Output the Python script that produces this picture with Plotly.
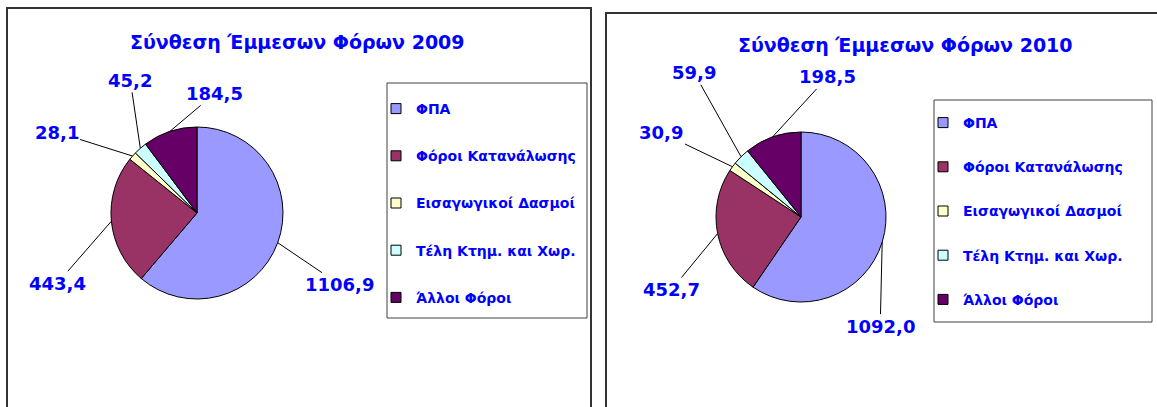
import numpy as np
import plotly.graph_objects as go

W, H = 1157, 407

categories = ["ΦΠΑ", "Φόροι Κατανάλωσης", "Εισαγωγικοί Δασμοί", "Τέλη Κτημ. και Χωρ.", "Άλλοι Φόροι"]
values_2009 = [1106.9, 443.4, 28.1, 45.2, 184.5]
values_2010 = [1092.0, 452.7, 30.9, 59.9, 198.5]
titles = ["Σύνθεση Έμμεσων Φόρων 2009", "Σύνθεση Έμμεσων Φόρων 2010"]
colors = ["#9999FF", "#993366", "#FFFFCC", "#CCFFFF", "#660066"]

BLUE = "#0000FF"
FONT = "Comic Sans MS, DejaVu Sans, sans-serif"

# pie centre / radius in pixels, label offsets (px) per slice
pies = [
    dict(vals=values_2009, cx=197, cy=213, r=86,
         offs=[(62, 42), (-54, 62), (-76, -24), (-10, -68), (45, -38)]),
    dict(vals=values_2010, cx=801, cy=217, r=85,
         offs=[(-2, 84), (-46, 56), (-71, -34), (-47, -84), (55, -60)]),
]

fig = go.Figure()
annotations = []

for p in pies:
    dom_x = [(p["cx"] - p["r"]) / W, (p["cx"] + p["r"]) / W]
    dom_y = [1 - (p["cy"] + p["r"]) / H, 1 - (p["cy"] - p["r"]) / H]
    fig.add_trace(go.Pie(
        labels=categories, values=p["vals"], sort=False, direction="clockwise",
        rotation=0, textinfo="none", hoverinfo="label+value",
        marker=dict(colors=colors, line=dict(color="#000000", width=1)),
        domain=dict(x=dom_x, y=dom_y), showlegend=False,
    ))
    # label each slice at its outer edge midpoint
    v = np.array(p["vals"])
    frac = v / v.sum()
    mids = (np.cumsum(frac) - frac / 2) * 2 * np.pi
    for val, a, (ax, ay) in zip(v, mids, p["offs"]):
        px = p["cx"] + p["r"] * np.sin(a)
        py = p["cy"] - p["r"] * np.cos(a)
        annotations.append(dict(
            x=px / W, y=1 - py / H, xref="paper", yref="paper",
            text=f"{val:.1f}".replace(".", ","), showarrow=True, arrowhead=0,
            arrowwidth=1, arrowcolor="#000000", ax=ax, ay=ay, standoff=0,
            font=dict(family=FONT, size=18, color=BLUE, weight="bold"),
        ))

# dummy traces for the legends (one group each so the gap can be set)
for lg in ["legend", "legend2"]:
    for c, col in zip(categories, colors):
        fig.add_trace(go.Scatter(
            x=[None], y=[None], mode="markers", name=c, legend=lg,
            legendgroup=lg + c, hoverinfo="skip",
            marker=dict(symbol="square", size=10, color=col,
                        line=dict(color="#000000", width=1)),
        ))

title_font = dict(family=FONT, size=19, color=BLUE, weight="bold")
annotations += [
    dict(x=297 / W, y=1 - 42 / H, xref="paper", yref="paper", text=titles[0],
         xanchor="center", yanchor="middle", showarrow=False, font=title_font),
    dict(x=905 / W, y=1 - 45 / H, xref="paper", yref="paper", text=titles[1],
         xanchor="center", yanchor="middle", showarrow=False, font=title_font),
]

def rect(x0, y0, x1, y1, w=2, c="#333333"):
    return dict(type="rect", xref="paper", yref="paper", x0=x0 / W, x1=x1 / W,
                y0=1 - y1 / H, y1=1 - y0 / H, line=dict(color=c, width=w),
                fillcolor="rgba(0,0,0,0)", layer="below")

shapes = [
    rect(7, 8, 591, 412),
    rect(606, 13, 1162, 412),
    rect(387, 83, 587, 318, w=1, c="#404040"),
    rect(934, 100, 1152, 322, w=1, c="#404040"),
]

legend_font = dict(family=FONT, size=14, color=BLUE, weight="bold")
fig.update_layout(
    width=W, height=H, margin=dict(l=0, r=0, t=0, b=0),
    paper_bgcolor="white", plot_bgcolor="white",
    xaxis=dict(visible=False), yaxis=dict(visible=False),
    annotations=annotations, shapes=shapes,
    legend=dict(x=376 / W, y=1 - 93 / H, xanchor="left", yanchor="top",
                font=legend_font, tracegroupgap=26, itemwidth=30,
                bgcolor="rgba(0,0,0,0)", borderwidth=0),
    legend2=dict(x=923 / W, y=1 - 107 / H, xanchor="left", yanchor="top",
                 font=legend_font, tracegroupgap=23, itemwidth=30,
                 bgcolor="rgba(0,0,0,0)", borderwidth=0),
)

fig.write_html("out.html", config={"displayModeBar": False},
               post_script="document.body.style.margin='0';")
